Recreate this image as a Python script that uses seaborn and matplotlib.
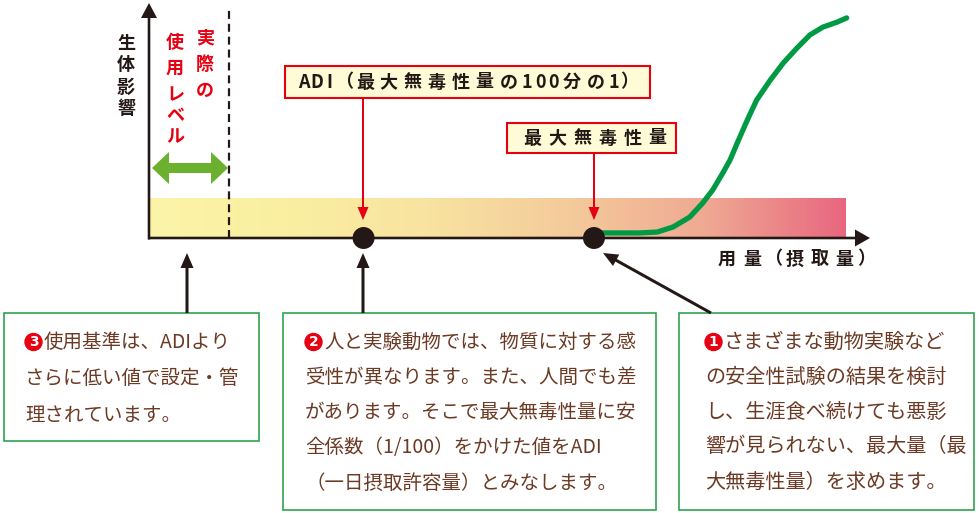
import numpy as np
import matplotlib.pyplot as plt
import seaborn as sns
from matplotlib.colors import LinearSegmentedColormap
from matplotlib.patches import Rectangle, Circle

# dose-response curve, dose 0-100 along the x axis, effect 0-100 up the y axis
dose = [61.8, 62.6, 68.2, 70.6, 72.8, 75.1, 76.9, 78.3, 79.7, 80.7, 81.7, 83.1, 84.4,
        86.3, 88.1, 90.0, 91.8, 93.6, 95.6, 96.9]
effect = [2.0, 2.2, 2.2, 2.6, 4.8, 9.1, 15.2, 20.9, 28.3, 33.9, 41.3, 51.3, 60.0,
          68.7, 76.1, 82.6, 88.3, 91.7, 93.9, 95.7]
point_dose = [29.8, 61.8]          # ADI, 最大無毒性量
use_level = 11.1                   # 実際の使用レベル
band_end = 96.8
band_top = 17
band_colors = ['#FCF4A8', '#FAEFA0', '#F8E3A0', '#F4CB9B', '#EFA993', '#E8677F']

y_label = '生体影響'
use_cols = ['実際の', '使用レベル']
x_label = '用量（摂取量）'
adi_label = 'ADI（最大無毒性量の100分の1）'
noael_label = '最大無毒性量'

note1 = ['さまざまな動物実験など', 'の安全性試験の結果を検討', 'し、生涯食べ続けても悪影',
         '響が見られない、最大量（最', '大無毒性量）を求めます。']
note2 = ['人と実験動物では、物質に対する感', '受性が異なります。また、人間でも差',
         'があります。そこで最大無毒性量に安', '全係数（1/100）をかけた値をADI',
         '（一日摂取許容量）とみなします。']
note3 = ['使用基準は、ADIより', 'さらに低い値で設定・管', '理されています。']

sns.set_theme(style='white')
plt.rcParams['font.family'] = ['Noto Sans CJK JP', 'DejaVu Sans']

INK = '#231815'
RED = '#E60012'
BROWN = '#6B3A24'
BOXGREEN = '#2FA352'

fig = plt.figure(figsize=(9.8, 5.13), dpi=100)
ax = fig.add_axes([149/980, 275/513, 720/980, 230/513], zorder=1)
ax_bg = fig.add_axes([0, 0, 1, 1], zorder=2)
ax_bg.set_xlim(0, 980)
ax_bg.set_ylim(513, 0)
ax_bg.axis('off')
ax_bg.patch.set_alpha(0)

# chart part
cmap = LinearSegmentedColormap.from_list('band', band_colors)
grad = np.linspace(0, 1, 256).reshape(1, -1)
ax.imshow(grad, extent=[0, band_end, 0, band_top], aspect='auto', cmap=cmap, zorder=0)
ax.axvline(use_level, ymin=0, ymax=0.99, color=INK, lw=1.6, ls=(0, (3.6, 2.2)), zorder=1)
sns.lineplot(x=dose, y=effect, ax=ax, color='#009A44', lw=3.8, sort=False, zorder=3,
             solid_joinstyle='round', solid_capstyle='round')
sns.scatterplot(x=point_dose, y=[0, 0], ax=ax, s=250, color=INK, edgecolor='none',
                clip_on=False, zorder=5)
ax.set_xlim(0, 100)
ax.set_ylim(0, 100)
ax.axis('off')


def arrow(x0, y0, x1, y1, w, hw, hl, c):
    ax_bg.arrow(x0, y0, x1 - x0, y1 - y0, width=w, head_width=hw, head_length=hl,
                length_includes_head=True, color=c, lw=0)


# axes with arrow heads
arrow(149, 239.5, 149, 3, 2.6, 16, 15, INK)
arrow(148, 238, 870, 238, 2.6, 17, 15, INK)

# green double arrow for usage level
arrow(190, 168, 152, 168, 10, 32, 17, '#6BB12F')
arrow(190, 168, 228, 168, 10, 32, 17, '#6BB12F')


def spaced(x, y, s, pitch, **kw):
    for ch in s:
        w = pitch * 0.54 if ch.isascii() else pitch * 0.7 if ch in '（）' else pitch
        ax_bg.text(x + w / 2, y, ch, ha='center', va='center', **kw)
        x += w


def vertical(x, y, s, pitch, **kw):
    for i, ch in enumerate(s):
        ax_bg.text(x, y + i * pitch, ch, ha='center', va='center', **kw)


head = dict(fontsize=13, fontweight='bold')
vertical(126, 43, y_label, 22, color=INK, **head)
vertical(205, 38, use_cols[0], 26, color=RED, **head)
ax_bg.text(175, 43, '使', ha='center', va='center', color=RED, **head)
ax_bg.text(175, 68, '用', ha='center', va='center', color=RED, **head)
vertical(175, 95, use_cols[1][2:], 21, color=RED, **head)

# label boxes with red arrows
ax_bg.add_patch(Rectangle((285, 66), 365, 32, fc='#FFFBD6', ec=RED, lw=1.5))
spaced(297, 82, adi_label, 24, color=INK, **head)
arrow(363, 98, 363, 220, 2, 11, 13, RED)

ax_bg.add_patch(Rectangle((507, 123), 169, 30, fc='#FFFBD6', ec=RED, lw=1.5))
spaced(520, 138, noael_label, 25, color=INK, **head)
arrow(594, 153, 594, 220, 2, 11, 13, RED)

spaced(714.5, 259, x_label, 25, color=INK, **head)

# note boxes
boxes = [
    (note3, '3', (4, 313, 255, 128), 25, 342, 36.5, 14),
    (note2, '2', (283, 313, 373, 197), 305, 342, 35.3, 14),
    (note1, '1', (679, 313, 295, 197), 705, 342, 35.0, 14.5),
]
for lines, num, (bx, by, bw, bh), tx, ty, lh, fs in boxes:
    ax_bg.add_patch(Rectangle((bx, by), bw, bh, fc='white', ec=BOXGREEN, lw=1.2))
    ax_bg.add_patch(Circle((tx + 8.5, ty), 8.5, color=RED, zorder=4))
    ax_bg.text(tx + 8.5, ty + 0.5, num, color='white', fontsize=10, fontweight='bold',
               ha='center', va='center', family='DejaVu Sans', zorder=5)
    for i, line in enumerate(lines):
        x = tx + 19 if i == 0 else tx
        ax_bg.text(x, ty + i * lh, line, ha='left', va='center', color=BROWN, fontsize=fs)

# black arrows from notes to the chart
arrow(187, 313, 187, 253, 3, 13, 15, INK)
arrow(363, 313, 363, 253, 3, 13, 15, INK)
arrow(711, 313, 603, 253, 3, 13, 15, INK)

fig.savefig('out.png', dpi=100)
